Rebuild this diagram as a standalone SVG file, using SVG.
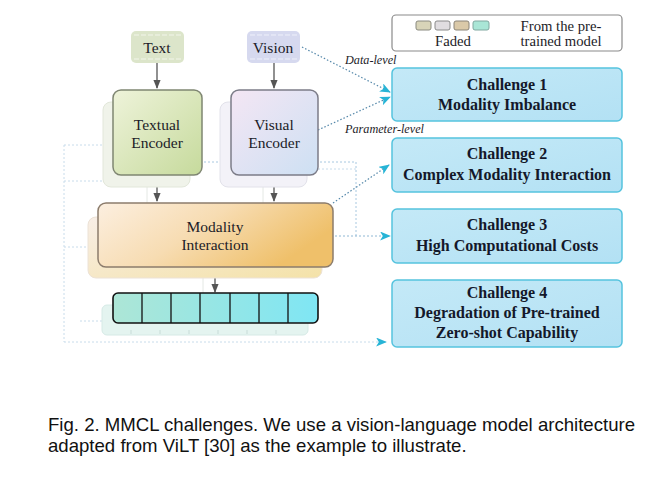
<svg xmlns="http://www.w3.org/2000/svg" width="665" height="478" viewBox="0 0 665 478">
<defs>
<style>
.serif{font-family:"Liberation Serif","DejaVu Serif",serif;fill:#1c1c28}
.node{font-size:15.5px;text-anchor:middle}
.ch{font-size:16px;font-weight:bold;text-anchor:middle;fill:#14182a}
.lvl{font-size:12.2px;font-style:italic}
.leg{font-size:14.7px;text-anchor:middle}
.cap{font-family:"Liberation Sans",Arial,sans-serif;font-size:18.6px;fill:#111}
.arr{stroke:#555;stroke-width:1.3;fill:none}
.dot{stroke:#5588aa;stroke-width:1.2;stroke-dasharray:1.5 2;fill:none}
.grid{stroke:#c8dceb;stroke-width:1;stroke-dasharray:2 2;fill:none}
.faint{stroke:#e4e8e4;stroke-width:1;fill:none}
.chbox{fill:url(#gCh);stroke:#55c3de;stroke-width:1.5}
</style>
<linearGradient id="gText" x1="0" y1="0" x2="1" y2="1"><stop offset="0" stop-color="#eef3da"/><stop offset="1" stop-color="#c6da9c"/></linearGradient>
<linearGradient id="gVis" x1="0" y1="0" x2="1" y2="1"><stop offset="0" stop-color="#f4e6f4"/><stop offset="1" stop-color="#cde0f3"/></linearGradient>
<linearGradient id="gMI" x1="0" y1="0" x2="1" y2="0.4"><stop offset="0" stop-color="#fcefe0"/><stop offset="0.5" stop-color="#f7dcb2"/><stop offset="1" stop-color="#efc06a"/></linearGradient>
<linearGradient id="gMIs" x1="0" y1="0" x2="1" y2="1"><stop offset="0" stop-color="#f8eee6"/><stop offset="1" stop-color="#f4e2a8"/></linearGradient>
<linearGradient id="gTok" x1="0" y1="0" x2="1" y2="0"><stop offset="0" stop-color="#ade6d6"/><stop offset="1" stop-color="#7fe6f4"/></linearGradient>
<linearGradient id="gCh" x1="0" y1="0" x2="1" y2="1"><stop offset="0" stop-color="#c4e9f7"/><stop offset="1" stop-color="#b3e1f4"/></linearGradient>
<marker id="ah" viewBox="0 0 10 10" refX="9" refY="5" markerWidth="7" markerHeight="7" orient="auto"><path d="M0,1 L10,5 L0,9 z" fill="#555"/></marker>
<marker id="ahc" viewBox="0 0 12 10" refX="11" refY="5" markerWidth="11" markerHeight="9" markerUnits="userSpaceOnUse" orient="auto"><path d="M0,0 L12,5 L0,10 L3,5 z" fill="#27b4d6"/></marker>
</defs>
<rect width="665" height="478" fill="#fff"/>

<g id="connectors">
<path class="grid" d="M64,145 H110 M64,181 H110 M64,145 V342 M64,247 H92 M80,321 H104"/>
<path class="grid" d="M64,342 H386" marker-end="url(#ahc)"/>
<path class="grid" d="M200,162 H356 V236" style="stroke:#a8c8e0"/>
<path class="grid" d="M318,169 H356"/>
<path class="faint" d="M147,187 V205 M263,187 V205 M203,278 V300"/>
<path class="arr" d="M157,63 V88" marker-end="url(#ah)"/>
<path class="arr" d="M274,63 V88" marker-end="url(#ah)"/>
<path class="arr" d="M157,175 V201" marker-end="url(#ah)"/>
<path class="arr" d="M274,175 V201" marker-end="url(#ah)"/>
<path class="arr" d="M215,267 V292" marker-end="url(#ah)"/>
<path class="dot" d="M302,47 L390,92" marker-end="url(#ahc)"/>
<path class="dot" d="M318,130 L390,97" marker-end="url(#ahc)"/>
<path class="dot" d="M333,203 L389,165" marker-end="url(#ahc)"/>
<path class="grid" d="M335,236 H390" style="stroke:#8fb8d4" marker-end="url(#ahc)"/>
</g>

<g id="text-input">
<rect x="131" y="31" width="53" height="32" rx="5" fill="#dce5ca"/>
<path d="M134,35 H181 M134,59 H181" stroke="#f2f5ea" stroke-width="1" stroke-dasharray="5 2"/>
<text class="serif node" x="157" y="53">Text</text>
</g>
<g id="vision-input">
<rect x="247" y="31" width="53" height="32" rx="5" fill="#d6d9ef"/>
<path d="M250,35 H297 M250,59 H297" stroke="#eef0fa" stroke-width="1" stroke-dasharray="5 2"/>
<text class="serif node" x="273" y="53">Vision</text>
</g>

<g id="textual-encoder">
<rect x="103" y="102" width="87" height="85" rx="8" fill="#f0f3ea" stroke="#e2e7da"/>
<rect x="113" y="90" width="89" height="85" rx="8" fill="url(#gText)" stroke="#7f8672" stroke-width="1.5"/>
<text class="serif node" x="157" y="130">Textual</text>
<text class="serif node" x="157" y="148">Encoder</text>
</g>
<g id="visual-encoder">
<rect x="220" y="102" width="87" height="85" rx="8" fill="#f3f2f8" stroke="#e2e2ea"/>
<rect x="231" y="90" width="87" height="85" rx="8" fill="url(#gVis)" stroke="#7c7c88" stroke-width="1.5"/>
<text class="serif node" x="274" y="130">Visual</text>
<text class="serif node" x="274" y="148">Encoder</text>
</g>
<g id="modality-interaction">
<rect x="88" y="217" width="234" height="61" rx="8" fill="url(#gMIs)" stroke="#ece2d6"/>
<rect x="98" y="203" width="235" height="64" rx="8" fill="url(#gMI)" stroke="#8c7c6c" stroke-width="1.5"/>
<text class="serif node" x="215" y="232">Modality</text>
<text class="serif node" x="215" y="250">Interaction</text>
</g>
<g id="tokens">
<rect x="102" y="305" width="206" height="30" rx="5" fill="#e4f4f0" stroke="#d6eae6"/>
<path d="M131,330 V334 M160,330 V334 M189,330 V334 M218,330 V334 M247,330 V334 M276,330 V334" stroke="#c8dcd8"/>
<rect x="113" y="293" width="205" height="30" rx="5" fill="url(#gTok)" stroke="#111" stroke-width="1.6"/>
<path d="M142,293 V323 M171,293 V323 M200,293 V323 M230,293 V323 M259,293 V323 M288,293 V323" stroke="#111" stroke-width="1.3"/>
</g>

<text class="serif lvl" x="345" y="64">Data-level</text>
<text class="serif lvl" x="345" y="133">Parameter-level</text>

<g id="legend">
<rect x="392" y="15" width="230" height="36" rx="4" fill="#fff" stroke="#8a8a8a" stroke-width="1.2"/>
<rect x="416" y="21" width="15" height="9" rx="2" fill="#d8d4b8" stroke="#8a8a80"/>
<rect x="435" y="21" width="15" height="9" rx="2" fill="#e0dde0" stroke="#8a8a8a"/>
<rect x="454" y="21" width="15" height="9" rx="2" fill="#dac9a8" stroke="#8a8478"/>
<rect x="473" y="21" width="16" height="9" rx="2" fill="#a9e6d6" stroke="#80a8a0"/>
<text class="serif leg" x="453" y="46">Faded</text>
<text class="serif leg" x="561" y="31">From the pre-</text>
<text class="serif leg" x="561" y="46">trained model</text>
</g>

<g id="challenge-1">
<rect class="chbox" x="392" y="68" width="230" height="53" rx="5"/>
<text class="serif ch" x="507" y="90">Challenge 1</text>
<text class="serif ch" x="507" y="110">Modality Imbalance</text>
</g>
<g id="challenge-2">
<rect class="chbox" x="392" y="138" width="230" height="54" rx="5"/>
<text class="serif ch" x="507" y="159">Challenge 2</text>
<text class="serif ch" x="507" y="180">Complex Modality Interaction</text>
</g>
<g id="challenge-3">
<rect class="chbox" x="392" y="209" width="230" height="54" rx="5"/>
<text class="serif ch" x="507" y="230">Challenge 3</text>
<text class="serif ch" x="507" y="251">High Computational Costs</text>
</g>
<g id="challenge-4">
<rect class="chbox" x="392" y="280" width="230" height="67" rx="5"/>
<text class="serif ch" x="507" y="298">Challenge 4</text>
<text class="serif ch" x="507" y="318">Degradation of Pre-trained</text>
<text class="serif ch" x="507" y="338">Zero-shot Capability</text>
</g>

<text class="cap" x="48" y="431">Fig. 2. MMCL challenges. We use a vision-language model architecture</text>
<text class="cap" x="48" y="452">adapted from ViLT [30] as the example to illustrate.</text>
</svg>
